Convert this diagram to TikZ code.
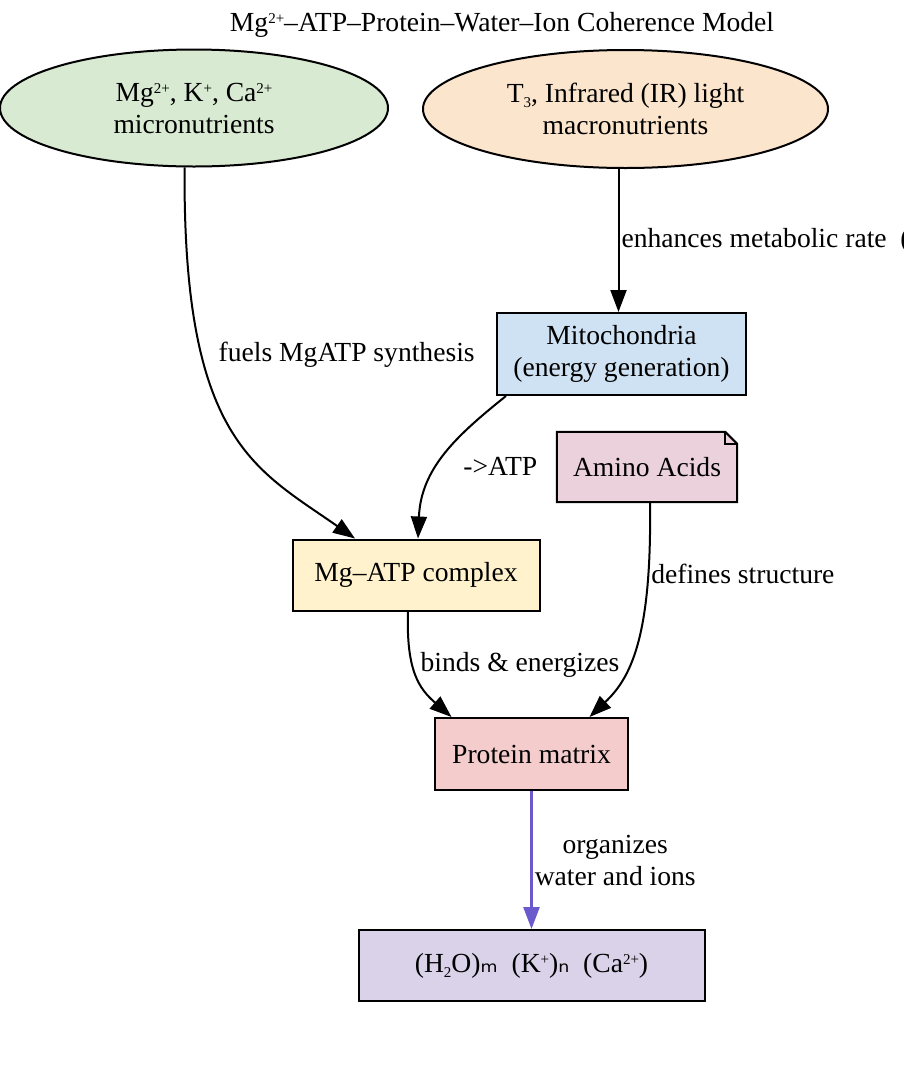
\documentclass[tikz,border=0pt]{standalone}
\usepackage{fontspec}
\setmainfont{Liberation Serif}
\newfontfamily\subfont{DejaVu Sans}
\usepackage{tikz}
\usetikzlibrary{arrows.meta,shapes.geometric}

\definecolor{microgreen}{HTML}{D9EAD3}
\definecolor{macroorange}{HTML}{FCE5CD}
\definecolor{mitoblue}{HTML}{CFE2F3}
\definecolor{aminopink}{HTML}{EAD1DC}
\definecolor{complexyellow}{HTML}{FFF2CC}
\definecolor{proteinred}{HTML}{F4CCCC}
\definecolor{waterpurple}{HTML}{D9D2E9}
\definecolor{flowpurple}{HTML}{6A5ACD}

\newcommand\upidx[1]{\raisebox{0.62ex}{\fontsize{15}{15}\selectfont #1}}
\newcommand\lowidx[1]{\raisebox{-0.4ex}{\fontsize{15}{15}\selectfont #1}}

\begin{document}
\begin{tikzpicture}[x=1pt,y=-1pt,
  font=\fontsize{27.6}{32}\selectfont,
  box/.style={draw,line width=2pt,rectangle,inner sep=0pt,align=center},
  oval/.style={draw,line width=2pt,ellipse,inner sep=0pt,align=center},
  link/.style={line width=2pt,-{Triangle[length=22pt,width=16pt]}},
  lbl/.style={inner sep=2pt,align=center}]
  \useasboundingbox (0,0) rectangle (903,1077);
  \clip (0,0) rectangle (903,1077);
  \fill[white] (0,0) rectangle (903,1077);
  \node (title) at (502,25) {Mg\upidx{2+}–ATP–Protein–Water–Ion Coherence Model};
  \node[oval,fill=microgreen,minimum width=388pt,minimum height=117pt] (micro) at (194,108)
    {Mg\upidx{2+}, K\upidx{+}, Ca\upidx{2+}\\micronutrients};
  \node[oval,fill=macroorange,minimum width=405pt,minimum height=118pt] (macro) at (625.5,109)
    {T\lowidx{3}, Infrared (IR) light\\macronutrients};
  \node[box,fill=mitoblue,minimum width=249pt,minimum height=82pt] (mito) at (621.5,354)
    {Mitochondria\\(energy generation)};
  \node[rectangle,inner sep=0pt,fill=aminopink,minimum width=180pt,minimum height=70pt] (amino) at (647,467) {Amino Acids};
  \fill[white] ([xshift=-12pt]amino.north east) -- (amino.north east) -- ([yshift=-12pt]amino.north east) -- cycle;
  \draw[line width=2pt] (amino.north west) -- ([xshift=-12pt]amino.north east) -- ([yshift=-12pt]amino.north east)
    -- (amino.south east) -- (amino.south west) -- cycle;
  \draw[line width=1.5pt] ([xshift=-12pt]amino.north east) |- ([yshift=-12pt]amino.north east);
  \node[box,fill=complexyellow,minimum width=247pt,minimum height=71pt] (mgatp) at (416,575) {Mg–ATP complex};
  \node[box,fill=proteinred,minimum width=193pt,minimum height=72pt] (protein) at (531.5,754) {Protein matrix};
  \node[box,fill=waterpurple,minimum width=346pt,minimum height=71pt] (water) at (531.5,965.5)
    {(H\lowidx{2}O){\subfont ₘ}\ \ (K\upidx{+}){\subfont ₙ}\ \ (Ca\upidx{2+})};

  \draw[link] (micro.261) .. controls +(-2,273) and +(-100,-70) .. ([xshift=-61pt]mgatp.north)
    node[lbl,pos=0.3,right=14pt] {fuels MgATP synthesis};
  \draw[link] ([xshift=-7pt]macro.south) -- ([xshift=-3pt]mito.north)
    node[lbl,midway,right=0pt] {enhances metabolic rate\ \ (};
  \draw[link] ([xshift=10pt]mito.south west) .. controls +(-50,40) and +(3,-70) .. ([xshift=2pt]mgatp.north)
    node[lbl,pos=0.58,right=23pt] {->ATP};
  \draw[link] ([xshift=3pt]amino.south) .. controls +(2,138) and +(40,-38) .. ([xshift=58pt]protein.north)
    node[lbl,pos=0.2,right=0pt] {defines structure};
  \draw[link] ([xshift=-8pt]mgatp.south) .. controls +(-2,60) and +(-32,-28) .. ([xshift=-80pt]protein.north)
    node[lbl,pos=0.38,right=5pt] {binds \& energizes};
  \draw[link,flowpurple,line width=2.5pt] (protein) -- (water)
    node[lbl,midway,right=0pt,text=black] {organizes\\water and ions};
\end{tikzpicture}
\end{document}
